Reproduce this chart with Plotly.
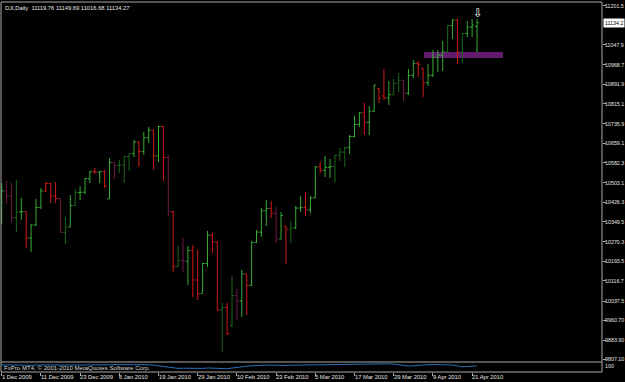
import pandas as pd
import plotly.graph_objects as go

# ---------------- data ----------------
holidays = ["2009-12-25", "2010-01-01", "2010-01-18", "2010-02-15", "2010-04-02"]
dates = [d for d in pd.bdate_range("2009-12-01", "2010-04-22").strftime("%Y-%m-%d") if d not in holidays]

opens = [10344.8, 10471.6, 10452.7, 10366.2, 10388.9, 10390.1, 10286.0, 10337.1, 10405.8, 10471.5,
         10501.1, 10452.0, 10441.1, 10308.3, 10328.9, 10414.1, 10464.9, 10466.4, 10520.1, 10547.1,
         10545.4, 10548.5, 10440.0, 10584.0, 10572.0, 10573.7, 10606.9, 10618.2, 10664.0, 10627.3,
         10680.8, 10710.6, 10609.7, 10725.4, 10603.2, 10389.9, 10173.0, 10196.9, 10194.3, 10236.2,
         10120.5, 10067.3, 10185.5, 10296.9, 10270.6, 10002.2, 10012.2, 9940.0, 10058.6, 10038.4,
         10144.2, 10099.1, 10268.8, 10309.2, 10392.9, 10402.4, 10383.4, 10282.4, 10332.0, 10321.0,
         10325.3, 10403.8, 10406.0, 10396.8, 10444.1, 10566.2, 10552.5, 10564.4, 10567.3, 10611.8,
         10624.7, 10642.2, 10686.0, 10733.7, 10779.2, 10742.0, 10785.9, 10875.0, 10846.0, 10838.0,
         10850.4, 10895.9, 10907.4, 10856.6, 10927.1, 10973.6, 10955.0, 10897.5, 10927.1, 10997.4,
         11006.0, 11019.4, 11123.1, 11144.6, 11018.7, 11092.1, 11117.1, 11119.76]
highs = [10502.8, 10510.6, 10502.8, 10514.6, 10443.6, 10390.6, 10341.2, 10439.7, 10483.0, 10506.7,
         10501.1, 10506.7, 10441.1, 10368.8, 10455.5, 10479.1, 10490.9, 10522.0, 10550.0, 10561.9,
         10550.0, 10554.0, 10601.3, 10584.0, 10593.4, 10609.2, 10620.0, 10672.2, 10666.0, 10703.8,
         10723.5, 10712.0, 10727.4, 10727.0, 10613.1, 10392.0, 10254.5, 10286.0, 10254.5, 10258.4,
         10238.7, 10187.5, 10313.6, 10305.7, 10272.0, 10029.8, 10029.8, 10136.3, 10085.0, 10159.9,
         10146.0, 10274.2, 10317.6, 10404.2, 10435.8, 10431.8, 10408.2, 10388.5, 10334.0, 10353.0,
         10412.1, 10451.5, 10467.3, 10451.5, 10569.7, 10585.5, 10609.2, 10597.3, 10614.0, 10640.7,
         10646.0, 10691.9, 10766.8, 10783.0, 10818.0, 10806.2, 10889.0, 10877.2, 10952.0, 10904.7,
         10912.6, 10936.3, 10910.0, 10952.0, 10987.5, 10983.6, 10956.0, 10971.7, 11026.9, 11026.9,
         11062.4, 11126.0, 11149.1, 11150.0, 11093.9, 11141.2, 11149.1, 11149.69]
lows = [10341.2, 10420.0, 10345.1, 10309.7, 10357.0, 10246.6, 10230.8, 10333.3, 10400.3, 10467.3,
        10423.9, 10423.9, 10305.7, 10262.4, 10329.4, 10412.1, 10435.8, 10459.4, 10502.8, 10538.2,
        10502.8, 10483.0, 10439.7, 10518.5, 10542.2, 10502.8, 10550.0, 10605.2, 10565.8, 10613.1,
        10660.4, 10554.0, 10585.5, 10510.6, 10372.7, 10152.0, 10171.7, 10152.0, 10100.8, 10053.5,
        10041.7, 10069.3, 10171.7, 10226.9, 9998.3, 9836.7, 9903.7, 9935.3, 9962.8, 9974.6,
        9982.5, 10096.8, 10266.0, 10290.0, 10333.3, 10364.8, 10266.3, 10280.0, 10183.5, 10266.3,
        10322.0, 10388.5, 10372.7, 10384.5, 10443.6, 10542.2, 10526.4, 10522.5, 10502.8, 10589.5,
        10565.8, 10617.0, 10682.0, 10723.5, 10691.9, 10691.9, 10782.6, 10818.0, 10829.9, 10810.2,
        10848.0, 10861.4, 10826.0, 10849.6, 10916.6, 10920.5, 10841.7, 10885.1, 10920.5, 10940.2,
        10944.2, 11015.1, 11070.3, 10971.7, 10975.7, 11078.1, 11078.1, 11016.68]
closes = [10471.6, 10452.7, 10366.2, 10388.9, 10390.1, 10286.0, 10337.1, 10405.8, 10471.5, 10501.1,
          10452.0, 10441.1, 10308.3, 10328.9, 10414.1, 10464.9, 10466.4, 10520.1, 10547.1, 10545.4,
          10548.5, 10491.0, 10584.0, 10572.0, 10573.7, 10606.9, 10618.2, 10664.0, 10627.3, 10680.8,
          10710.6, 10609.7, 10725.4, 10603.2, 10389.9, 10173.0, 10196.9, 10194.3, 10236.2, 10120.5,
          10067.3, 10185.5, 10296.9, 10270.6, 10002.2, 10012.2, 9908.4, 10058.6, 10038.4, 10144.2,
          10099.1, 10268.8, 10309.2, 10392.9, 10402.4, 10383.4, 10282.4, 10374.2, 10321.0, 10325.3,
          10403.8, 10406.0, 10396.8, 10444.1, 10566.2, 10552.5, 10564.4, 10567.3, 10611.8, 10624.7,
          10642.2, 10686.0, 10733.7, 10779.2, 10742.0, 10785.9, 10888.8, 10836.2, 10838.0, 10850.4,
          10895.9, 10907.4, 10856.6, 10927.1, 10973.6, 10970.0, 10897.5, 10927.1, 10997.4, 11006.0,
          11019.4, 11123.1, 11144.6, 11018.7, 11092.1, 11117.1, 11124.9, 11134.27]
# bar colour class: G bright green, D dark green, R red, P dark purple
bar_class = list("GPPDGRGGGR" "RRPDGDGGGR" "GRGPDDDGRG" "GRGRPRDPGR" "RGGRRDRDPG"
                 "RGGGGRPGRD" "GGRGGRGGDD" "DGGGRGGRRG" "DDPGGRRGGG" "GDGRDGGG")
indicator = [70, 71, 69, 68, 70, 67, 66, 68, 70, 71, 70, 69, 66, 65, 67, 69, 70, 71, 72, 72,
             73, 71, 72, 71, 72, 73, 74, 73, 74, 74, 72, 68, 62, 55, 45, 38, 36, 38, 36, 34,
             33, 36, 40, 38, 32, 30, 33, 40, 48, 55, 58, 62, 66, 68, 69, 68, 66, 67, 66, 68,
             69, 70, 69, 70, 72, 72, 73, 74, 74, 75, 76, 77, 80, 82, 84, 83, 84, 85, 84, 82,
             78, 70, 62, 60, 62, 68, 72, 74, 75, 76, 74, 72, 70, 58, 52, 56, 58, 60]

date_tick_idx = [0, 8, 16, 24, 32, 40, 48, 56, 64, 72, 80, 88, 96]
date_tick_text = ["1 Dec 2009", "11 Dec 2009", "23 Dec 2009", "6 Jan 2010", "19 Jan 2010", "29 Jan 2010",
                  "10 Feb 2010", "23 Feb 2010", "5 Mar 2010", "17 Mar 2010", "29 Mar 2010", "9 Apr 2010",
                  "21 Apr 2010"]
price_ticks = [11201.5, 11047.9, 10968.7, 10891.9, 10815.1, 10735.9, 10659.1, 10582.3, 10503.1,
               10426.3, 10349.5, 10270.3, 10193.5, 10116.7, 10037.5, 9960.7, 9883.9, 9807.1]
price_tick_text = ["11201.5", "11047.9", "10968.7", "10891.9", "10815.1", "10735.9", "10659.1",
                   "10582.3", "10503.1", "10426.3", "10349.5", "10270.3", "10193.5", "10116.7",
                   "10037.5", "9960.70", "9883.90", "9807.10"]
last_price = 11134.27
last_price_text = "11134.2"
zone_start, zone_end = 86.2, 102.3      # bar-index span of the purple zone
zone_low, zone_high = 10995.4, 11019.0  # price span of the purple zone
arrow_bar, arrow_price = 97.1, 11172.7
title_text = "DJI,Daily  11119.76 11149.69 11016.68 11134.27"
copyright_text = "FxPro MT4, © 2001-2010 MetaQuotes Software Corp."
sub_scale_text = "100"

# ---------------- styling ----------------
colors = {"G": "#35ad35", "D": "#1c661c", "R": "#d01818", "P": "#6e1a46"}
FONT = "Liberation Sans"
FS = 5.8
YFS = 5.3
TXT = "#e6e6e6"
FRAME = "#a8a8a8"
TICKW = 0.42

fig = go.Figure()
n = len(closes)
for cls, col in colors.items():
    xs, ys = [], []
    for i in range(n):
        if bar_class[i] != cls:
            continue
        xs += [i, i, None, i - TICKW, i, None, i, i + TICKW, None]
        ys += [highs[i], lows[i], None, opens[i], opens[i], None, closes[i], closes[i], None]
    fig.add_trace(go.Scatter(x=xs, y=ys, mode="lines", line=dict(color=col, width=1),
                             hoverinfo="skip", showlegend=False, xaxis="x", yaxis="y"))

fig.add_trace(go.Scatter(x=list(range(n)), y=indicator, mode="lines",
                         line=dict(color="#2a6fb8", width=1), showlegend=False,
                         xaxis="x", yaxis="y2", hoverinfo="skip"))

W, H = 625, 382
mt, mb, ml, mr = 2, 10, 1, 23
sep = 10 / 370.0

fig.update_layout(
    width=W, height=H,
    margin=dict(l=ml, r=mr, t=mt, b=mb, pad=0),
    paper_bgcolor="#000000", plot_bgcolor="#000000",
    font=dict(family=FONT, size=FS, color=TXT),
    xaxis=dict(range=[-0.14, 122.5], anchor="y2", showgrid=False, zeroline=False,
               tickvals=date_tick_idx, ticks="outside", ticklen=3, tickcolor=FRAME, tickwidth=1,
               showticklabels=False, fixedrange=True),
    yaxis=dict(domain=[sep, 1], range=[9797.2, 11216.1], side="right", anchor="x",
               showgrid=False, zeroline=False, tickvals=price_ticks,
               ticktext=price_tick_text, ticks="outside", ticklen=3, ticklabelstandoff=-2,
               tickcolor=FRAME, tickfont=dict(family=FONT, size=YFS, color=TXT), automargin=False),
    yaxis2=dict(domain=[0, sep], range=[0, 100], side="right", anchor="x", showgrid=False,
                zeroline=False, showticklabels=False, ticks="", automargin=False),
)

shapes = [
    dict(type="rect", xref="x", yref="y", x0=zone_start, x1=zone_end, y0=zone_low, y1=zone_high,
         fillcolor="#621a6c", line=dict(width=0), layer="below"),
    dict(type="line", xref="paper", yref="paper", x0=0, x1=1, y0=1, y1=1, line=dict(color=FRAME, width=1)),
    dict(type="line", xref="paper", yref="paper", x0=0, x1=1, y0=sep, y1=sep, line=dict(color=FRAME, width=1)),
    dict(type="line", xref="paper", yref="paper", x0=0, x1=1, y0=0, y1=0, line=dict(color=FRAME, width=1)),
    dict(type="line", xref="paper", yref="paper", x0=0, x1=0, y0=0, y1=1, line=dict(color=FRAME, width=1)),
    dict(type="line", xref="paper", yref="paper", x0=1, x1=1, y0=0, y1=1, line=dict(color=FRAME, width=1)),
]
fig.update_layout(shapes=shapes)

ann = []
for idx, txt in zip(date_tick_idx, date_tick_text):
    ann.append(dict(x=idx, y=-0.0135, xref="x", yref="paper", text=txt, showarrow=False,
                    xanchor="left", yanchor="middle", font=dict(family=FONT, size=FS, color=TXT),
                    borderpad=0, xshift=-1))
ann.append(dict(x=0, y=1, xref="paper", yref="paper", text=title_text, showarrow=False,
                xanchor="left", yanchor="top", xshift=3, yshift=-2, borderpad=0,
                font=dict(family=FONT, size=FS, color=TXT)))
ann.append(dict(x=0, y=sep / 2, xref="paper", yref="paper", text=copyright_text, showarrow=False,
                xanchor="left", yanchor="middle", xshift=2, borderpad=0,
                font=dict(family=FONT, size=6.1, color="#d8d8d8")))
ann.append(dict(x=1, y=sep / 2, xref="paper", yref="paper", text=sub_scale_text, showarrow=False,
                xanchor="left", yanchor="middle", xshift=2, yshift=1, borderpad=0,
                font=dict(family=FONT, size=YFS, color=TXT)))
ann.append(dict(x=1, y=last_price, xref="paper", yref="y", text=last_price_text, showarrow=False,
                xanchor="left", yanchor="middle", xshift=1, borderpad=1, bgcolor="#ffffff",
                font=dict(family=FONT, size=YFS, color="#000000")))
ann.append(dict(x=arrow_bar, y=arrow_price, xref="x", yref="y", text="⇩", showarrow=False,
                font=dict(family="DejaVu Sans", size=12, color="#ffffff")))
fig.update_layout(annotations=ann)

fig.write_html("out.html", config={"displayModeBar": False})
